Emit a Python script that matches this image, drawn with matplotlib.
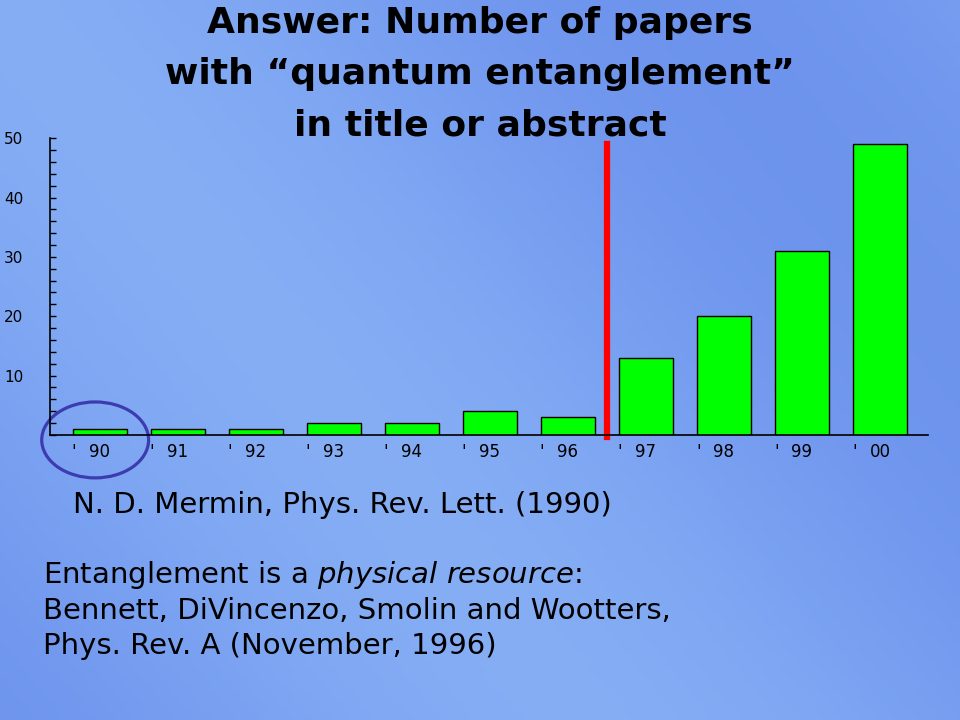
import matplotlib.pyplot as plt
import numpy as np
from matplotlib.patches import Ellipse
from matplotlib.transforms import blended_transform_factory

years = ["90", "91", "92", "93", "94", "95", "96", "97", "98", "99", "00"]
papers = [1, 1, 1, 2, 2, 4, 3, 13, 20, 31, 49]
y_ticks = [10, 20, 30, 40, 50]

fig = plt.figure(figsize=(9.6, 7.2), dpi=100)

# background: soft blue gradient
bg = fig.add_axes([0, 0, 1, 1])
bg.set_axis_off()
gx, gy = np.meshgrid(np.linspace(0, 1, 200), np.linspace(0, 1, 150))
band = 0.5 + 0.5 * np.cos((gx * 1.0 - gy * 0.6) * np.pi * 1.4)
c_dark = np.array([0.43, 0.58, 0.93])
c_light = np.array([0.52, 0.68, 0.96])
img = c_dark + (c_light - c_dark) * band[..., None]
bg.imshow(img, extent=[0, 1, 0, 1], aspect="auto", origin="upper")
bg.set_xlim(0, 1)
bg.set_ylim(0, 1)

ax = fig.add_axes([0.052, 0.396, 0.915, 0.412])
ax.patch.set_alpha(0)
x = np.arange(len(years))
ax.bar(x, papers, width=0.7, color="#00ff00", edgecolor="black", linewidth=1)
ax.set_xlim(-0.64, 10.62)
ax.set_ylim(0, 50)
ax.spines["top"].set_visible(False)
ax.spines["right"].set_visible(False)
ax.spines["left"].set_linewidth(1.2)
ax.spines["bottom"].set_linewidth(1.2)
ax.set_yticks(y_ticks)
ax.set_yticks(np.arange(0, 51, 2), minor=True)
ax.tick_params(axis="y", which="both", direction="in", length=4, width=1,
               labelsize=11, pad=19)
ax.set_xticks(x)
ax.set_xticklabels(years, fontsize=12)
ax.tick_params(axis="x", length=0, pad=6)
trans = blended_transform_factory(ax.transData, ax.transAxes)
for xi in x:
    ax.text(xi - 0.33, -0.074, "'", transform=trans, ha="center",
            va="baseline", fontsize=12)

# red line between '96 and '97
ax.plot([6.5, 6.5], [-0.4, 49], color="red", lw=4.5, clip_on=False)

# circle around '90
ax.add_patch(Ellipse((-0.06, -0.85), 1.37, 12.8, fill=False,
                     edgecolor="#3c3cb0", lw=2.3, clip_on=False))

title_lines = ["Answer: Number of papers",
               "with \u201cquantum entanglement\u201d",
               "in title or abstract"]
for i, line in enumerate(title_lines):
    fig.text(0.5, 0.968 - i * 0.071, line, ha="center", va="center",
             fontsize=26, fontweight="bold")

fig.text(0.076, 0.299, "N. D. Mermin, Phys. Rev. Lett. (1990)", ha="left",
         va="center", fontsize=21)
fig.text(0.045, 0.201, "Entanglement is a $\\it{physical\\ resource}$:",
         ha="left", va="center", fontsize=21)
fig.text(0.045, 0.152, "Bennett, DiVincenzo, Smolin and Wootters,",
         ha="left", va="center", fontsize=21)
fig.text(0.045, 0.103, "Phys. Rev. A (November, 1996)", ha="left",
         va="center", fontsize=21)

fig.savefig("out.png", dpi=100)
